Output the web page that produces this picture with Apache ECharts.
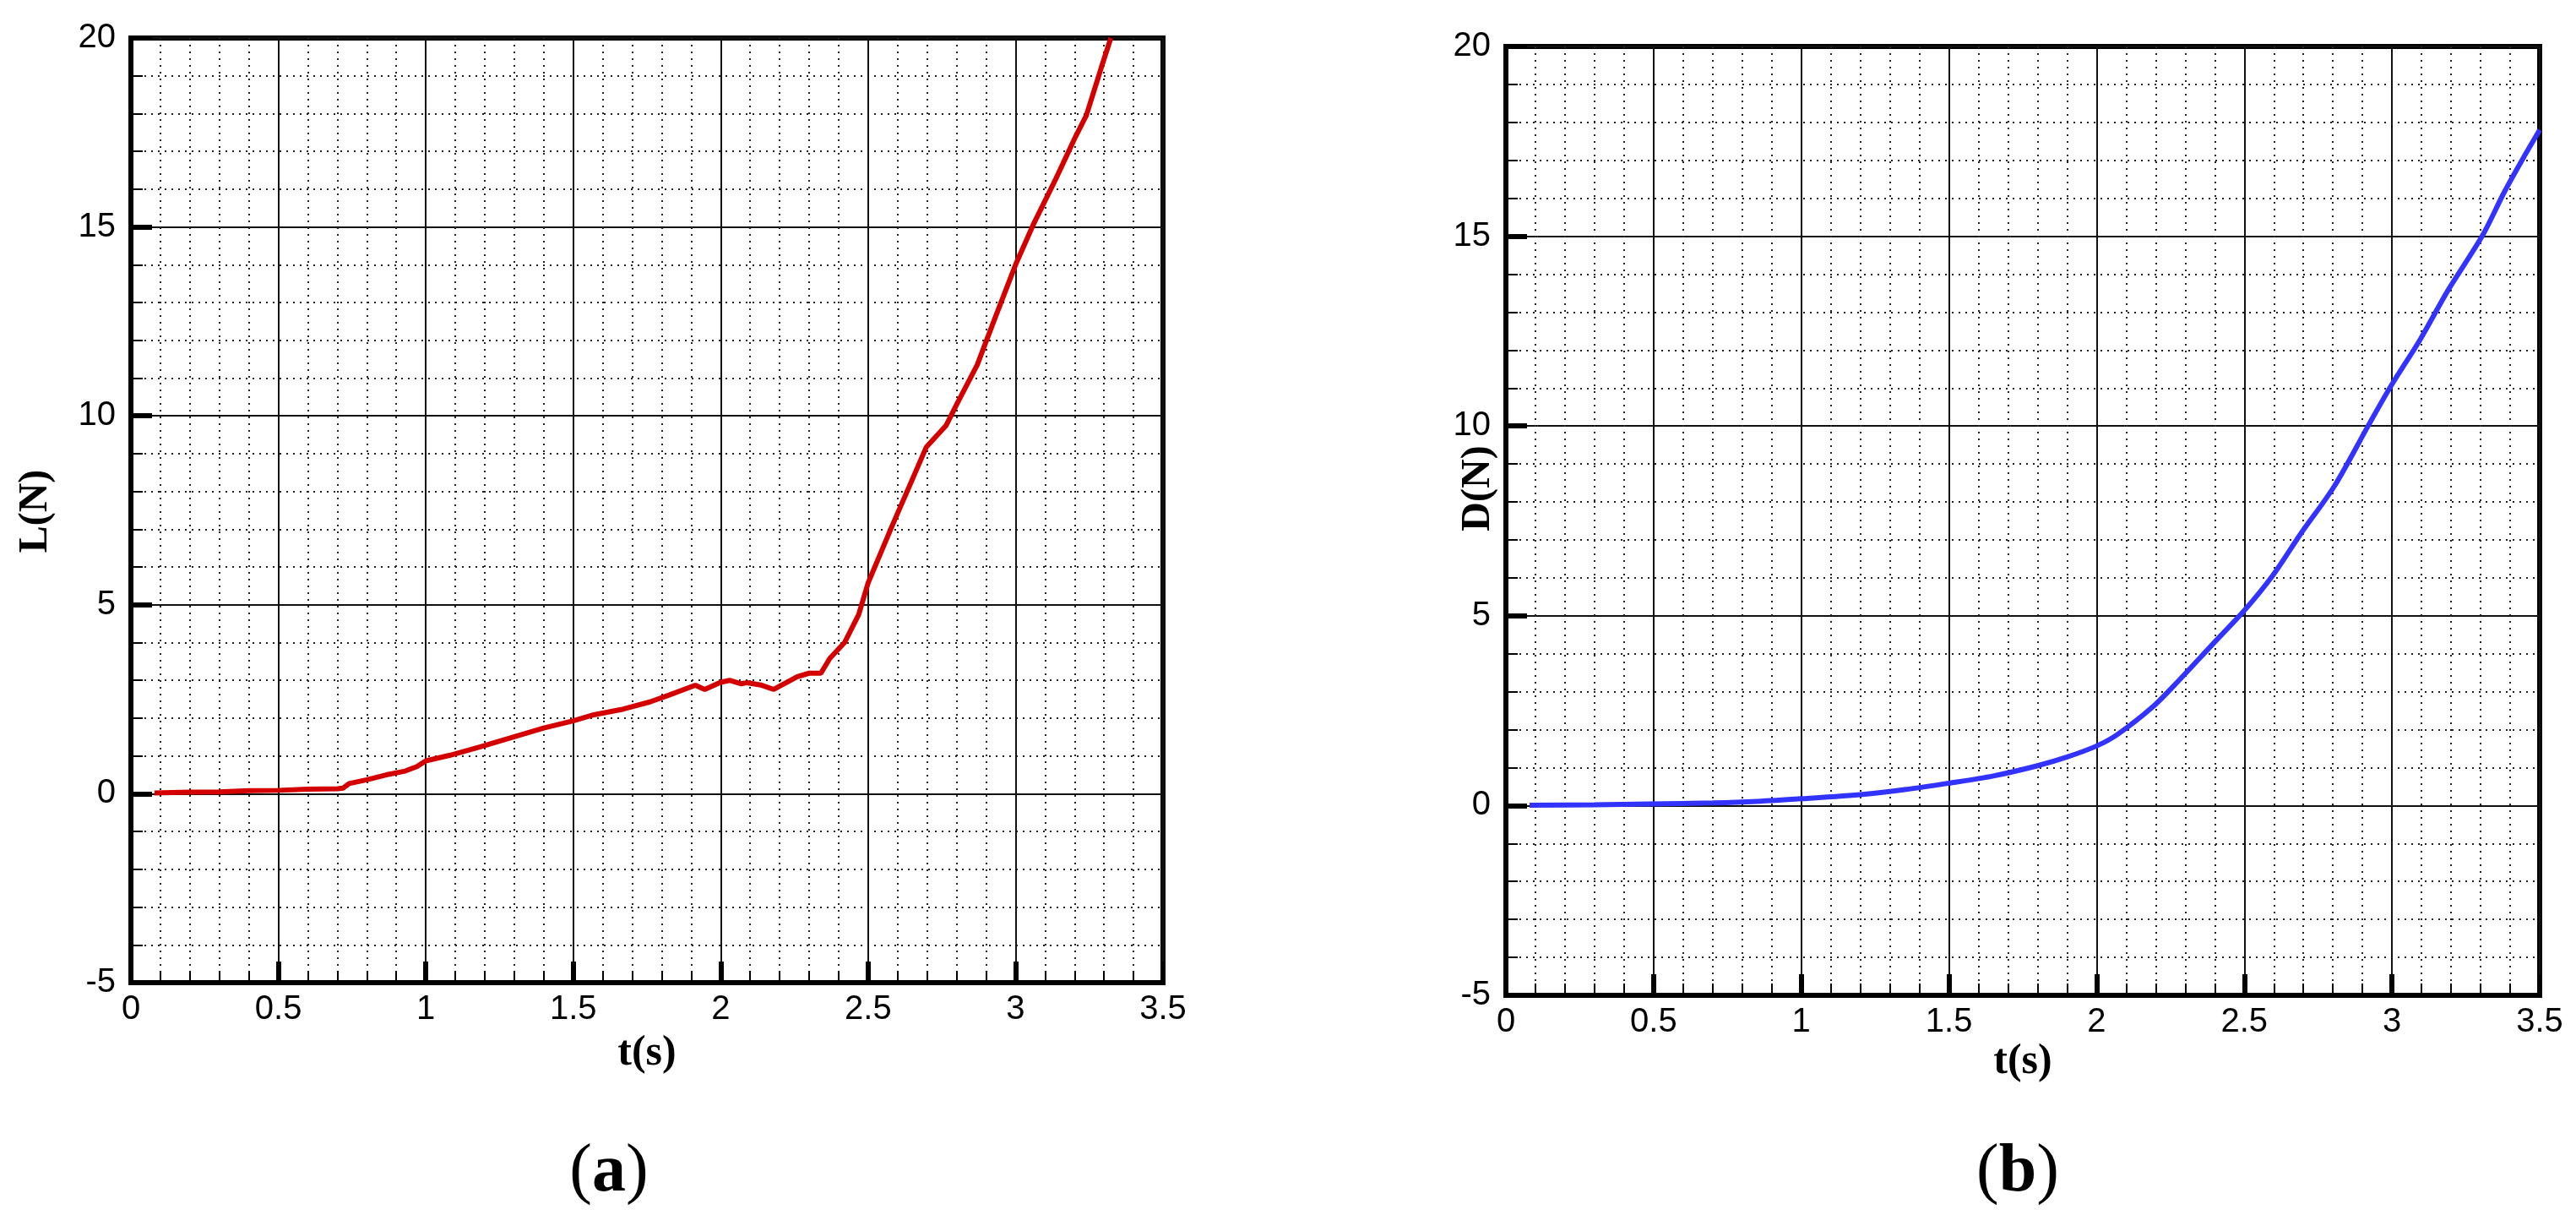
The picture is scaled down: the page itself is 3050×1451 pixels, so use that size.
<!DOCTYPE html>
<html>
<head>
<meta charset="utf-8">
<script src="https://cdn.jsdelivr.net/npm/echarts@6/dist/echarts.min.js"></script>
<style>
  html, body { margin: 0; padding: 0; background: #fff; }
  #main { width: 3050px; height: 1451px; }
</style>
</head>
<body>
<div id="main"></div>
<script>
// lift force L(N) against time t(s)
let tL = [0.08, 0.2, 0.3, 0.4, 0.5, 0.6, 0.7, 0.72, 0.74, 0.8, 0.866, 0.93, 0.97, 1.0, 1.083, 1.185,
  1.313, 1.4, 1.5, 1.57, 1.67, 1.76, 1.825, 1.914, 1.946, 2.0, 2.03, 2.07, 2.09, 2.14, 2.18, 2.26,
  2.3, 2.34, 2.37, 2.42, 2.468, 2.5, 2.582, 2.64, 2.697, 2.764, 2.8, 2.87, 2.926, 3.0, 3.06, 3.137,
  3.204, 3.24, 3.29, 3.323];
let L = [0.02, 0.04, 0.05, 0.08, 0.09, 0.12, 0.13, 0.15, 0.27, 0.37, 0.5, 0.6, 0.72, 0.87, 1.02, 1.24,
  1.54, 1.74, 1.93, 2.09, 2.24, 2.43, 2.61, 2.87, 2.76, 2.95, 3.0, 2.91, 2.94, 2.87, 2.76, 3.1,
  3.19, 3.19, 3.58, 4.0, 4.74, 5.58, 7.1, 8.14, 9.17, 9.74, 10.3, 11.35, 12.5, 14.0, 15.06, 16.28,
  17.4, 17.95, 19.2, 20.0];

// drag force D(N) against time t(s), panel (b)
let tD = [0.08, 0.3, 0.485, 0.7, 0.85, 1.0, 1.214, 1.35, 1.5, 1.65, 1.8, 1.9, 2.0, 2.07, 2.19, 2.28,
  2.395, 2.5, 2.596, 2.69, 2.806, 2.921, 3.0, 3.094, 3.19, 3.305, 3.38, 3.44, 3.5];
let D = [0.01, 0.02, 0.04, 0.07, 0.11, 0.18, 0.3, 0.42, 0.59, 0.78, 1.05, 1.28, 1.57, 1.87, 2.6, 3.31,
  4.27, 5.14, 6.06, 7.15, 8.43, 10.03, 11.1, 12.26, 13.58, 15.0, 16.16, 17.0, 17.8];

let xRange = [0, 3.5, 0.5];
let yRange = [-5, 20, 5];

function pairs(xs, ys){
  return xs.map(function(x, i){ return [x, ys[i]]; });
}

function makeAxis(kind, gridIndex){
  let r = kind == 'x' ? xRange : yRange;
  return {
    type: 'value',
    gridIndex: gridIndex,
    min: r[0],
    max: r[1],
    interval: r[2],
    axisLine: { show: true, onZero: false, lineStyle: { color: '#000', width: 6 } },
    axisTick: { show: true, inside: true, length: 25, lineStyle: { color: '#000', width: 6 } },
    minorTick: { show: true, splitNumber: 5, length: 14, lineStyle: { color: '#000', width: 2 } },
    splitLine: { show: true, lineStyle: { color: '#111', width: 2 } },
    minorSplitLine: { show: true, lineStyle: { color: '#222', width: 2, type: [2, 6] } },
    axisLabel: {
      show: true,
      showMinLabel: true,
      showMaxLabel: true,
      color: '#000',
      fontFamily: 'Liberation Sans',
      fontSize: 40,
      margin: kind == 'x' ? 12 : 18
    }
  };
}

let chart = echarts.init(document.getElementById('main'));

let serif = 'Liberation Serif';

chart.setOption({
  animation: false,
  backgroundColor: '#fff',
  grid: [
    { left: 155, top: 45, width: 1222, height: 1118, show: true, borderColor: '#000', borderWidth: 6 },
    { left: 1783, top: 55, width: 1224, height: 1123, show: true, borderColor: '#000', borderWidth: 6 }
  ],
  xAxis: [makeAxis('x', 0), makeAxis('x', 1)],
  yAxis: [makeAxis('y', 0), makeAxis('y', 1)],
  series: [
    {
      type: 'line',
      xAxisIndex: 0,
      yAxisIndex: 0,
      data: pairs(tL, L),
      showSymbol: false,
      lineStyle: { color: '#d40000', width: 6 },
      z: 5
    },
    {
      type: 'line',
      xAxisIndex: 1,
      yAxisIndex: 1,
      data: pairs(tD, D),
      showSymbol: false,
      smooth: 0.3,
      lineStyle: { color: '#3333ff', width: 6 },
      z: 5
    }
  ],
  graphic: [
    { type: 'text', x: 43, y: 605, rotation: Math.PI / 2,
      style: { text: 'L(N)', font: 'bold 48px ' + serif, fill: '#000', align: 'center', verticalAlign: 'middle' } },
    { type: 'text', x: 1751, y: 578, rotation: Math.PI / 2,
      style: { text: 'D(N)', font: 'bold 48px ' + serif, fill: '#000', align: 'center', verticalAlign: 'middle' } },
    { type: 'text', x: 766, y: 1247,
      style: { text: 't(s)', font: 'bold 50px ' + serif, fill: '#000', align: 'center', verticalAlign: 'middle' } },
    { type: 'text', x: 2395, y: 1257,
      style: { text: 't(s)', font: 'bold 50px ' + serif, fill: '#000', align: 'center', verticalAlign: 'middle' } },
    { type: 'text', x: 721, y: 1388,
      style: { text: '{p|(}{b|a}{p|)}', align: 'center', verticalAlign: 'middle',
        rich: { p: { font: '80px ' + serif, fill: '#000' }, b: { font: 'bold 80px ' + serif, fill: '#000' } } } },
    { type: 'text', x: 2389, y: 1388,
      style: { text: '{p|(}{b|b}{p|)}', align: 'center', verticalAlign: 'middle',
        rich: { p: { font: '80px ' + serif, fill: '#000' }, b: { font: 'bold 80px ' + serif, fill: '#000' } } } }
  ]
});
</script>
</body>
</html>
